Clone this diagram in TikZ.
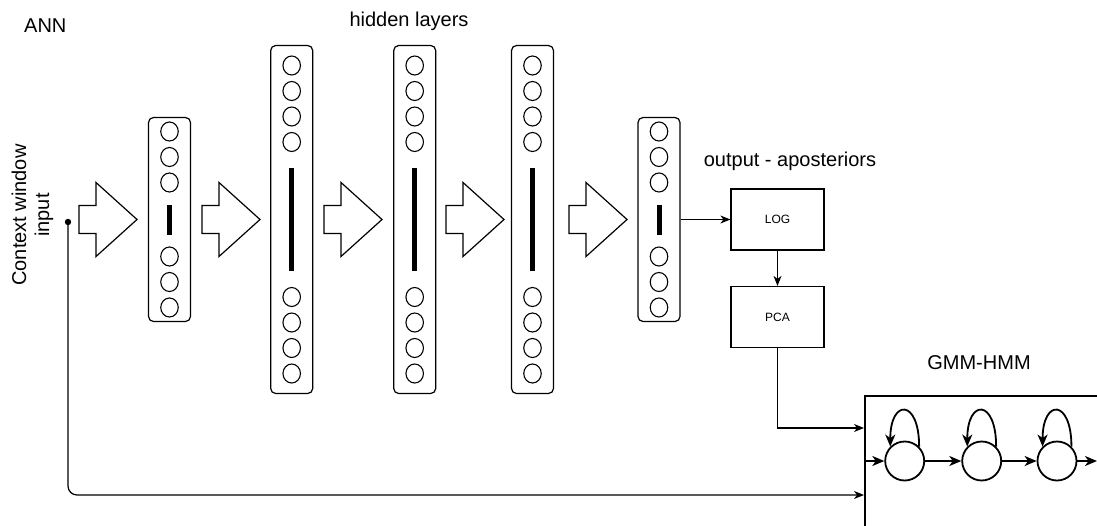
\documentclass[tikz,border=0pt]{standalone}
\usepackage{fontspec}
\setmainfont{Liberation Sans}
\usetikzlibrary{shapes.geometric,arrows.meta,calc}
\begin{document}
\begin{tikzpicture}[x=1pt,y=-1pt,
  labeltext/.style={font=\fontsize{20}{23}\selectfont, inner sep=0},
  layer/.style={draw, rounded corners=5pt, line width=1.2pt, minimum width=42pt, inner sep=0},
  smalllayer/.style={layer, minimum height=204pt},
  biglayer/.style={layer, minimum height=348pt},
  unit/.style={draw, ellipse, line width=1.1pt, minimum width=17.5pt, minimum height=19pt, inner sep=0},
  bar/.style={fill=black, draw=none, minimum width=5pt, inner sep=0},
  procbox/.style={draw, line width=1.2pt, minimum width=93pt, minimum height=61pt, inner sep=0, font=\fontsize{12}{14}\selectfont},
  conn/.style={line width=1.2pt, -{Stealth[length=10pt,width=8pt,inset=3pt]}},
  state/.style={draw, circle, line width=1.8pt, minimum size=39pt, inner sep=0},
  hmmconn/.style={line width=1.8pt, -{Stealth[length=12pt,width=10pt,inset=3.5pt]}},
  blockarrow/.pic={\draw[line width=1.2pt, line join=miter] (0,-14) -- (17,-14) -- (17,-37) -- (58,0) -- (17,37) -- (17,14) -- (0,14) -- cycle;}
]
\useasboundingbox (0,0) rectangle (1097,525);

% titles
\node[labeltext, anchor=base west] (ann) at (24,32.7) {ANN};
\node[labeltext, anchor=base] (hidden) at (409,26) {hidden layers};
\node[labeltext, anchor=base] (outlbl) at (790,166) {output - aposteriors};
\node[labeltext, anchor=base] (gmmlbl) at (979,369) {GMM-HMM};
\node[labeltext, rotate=90, align=center] (ctx) at (32.5,215) {Context window\\input};

% network layers
\node[smalllayer] (L1) at (169.5,219.5) {};
\node[biglayer]   (L2) at (291.7,219.5) {};
\node[biglayer]   (L3) at (414.7,219.5) {};
\node[biglayer]   (L4) at (532.5,219.5) {};
\node[smalllayer] (L5) at (659,219.5) {};

\foreach \L in {L1,L5}{
  \foreach \k [count=\i] in {-88,-62.5,-37,37,62.5,88}
    \node[unit] (\L u\i) at ($(\L.center)+(0,\k)$) {};
  \node[bar, minimum height=30pt] (\L bar) at (\L.center) {};
}
\foreach \L in {L2,L3,L4}{
  \foreach \k [count=\i] in {-154,-128.5,-103,-77.5,77.5,103,128.5,154}
    \node[unit] (\L u\i) at ($(\L.center)+(0,\k)$) {};
  \node[bar, minimum height=103pt] (\L bar) at (\L.center) {};
}

% block arrows between layers
\foreach \x in {79,202,324,446,569}
  \pic at (\x,219.5) {blockarrow};

% post-processing
\node[procbox] (log) at (777.5,219.5) {LOG};
\node[procbox] (pca) at (777.5,317) {PCA};

% GMM-HMM block
\node[draw, line width=1.5pt, anchor=north west, minimum width=260pt, minimum height=160pt, inner sep=0] (hmm) at (864,395) {};
\node[state] (s1) at (904.7,461) {};
\node[state] (s2) at (981.7,461) {};
\node[state] (s3) at (1057,461) {};

% connectors
\coordinate (in) at (68,222);
\coordinate (inend) at (864,495);
\coordinate (pcaend) at (864,428);
\coordinate (hmmin) at (864,461);
\coordinate (hmmout) at (1097,461);

\fill (in) circle (3.2pt);
\draw[conn, rounded corners=9pt] (in) |- (inend);
\draw[conn] (L5.east) -- (log.west);
\draw[conn] (log) -- (pca);
\draw[conn] (pca.south) |- (pcaend);

\draw[hmmconn] (hmmin) -- (s1);
\draw[hmmconn] (s1) -- (s2);
\draw[hmmconn] (s2) -- (s3);
\draw[hmmconn] (s3) -- (hmmout);
\foreach \s in {s1,s2,s3}
  \draw[hmmconn] (\s.45) .. controls +(0,-48) and +(0,-48) .. (\s.135);
\end{tikzpicture}
\end{document}
